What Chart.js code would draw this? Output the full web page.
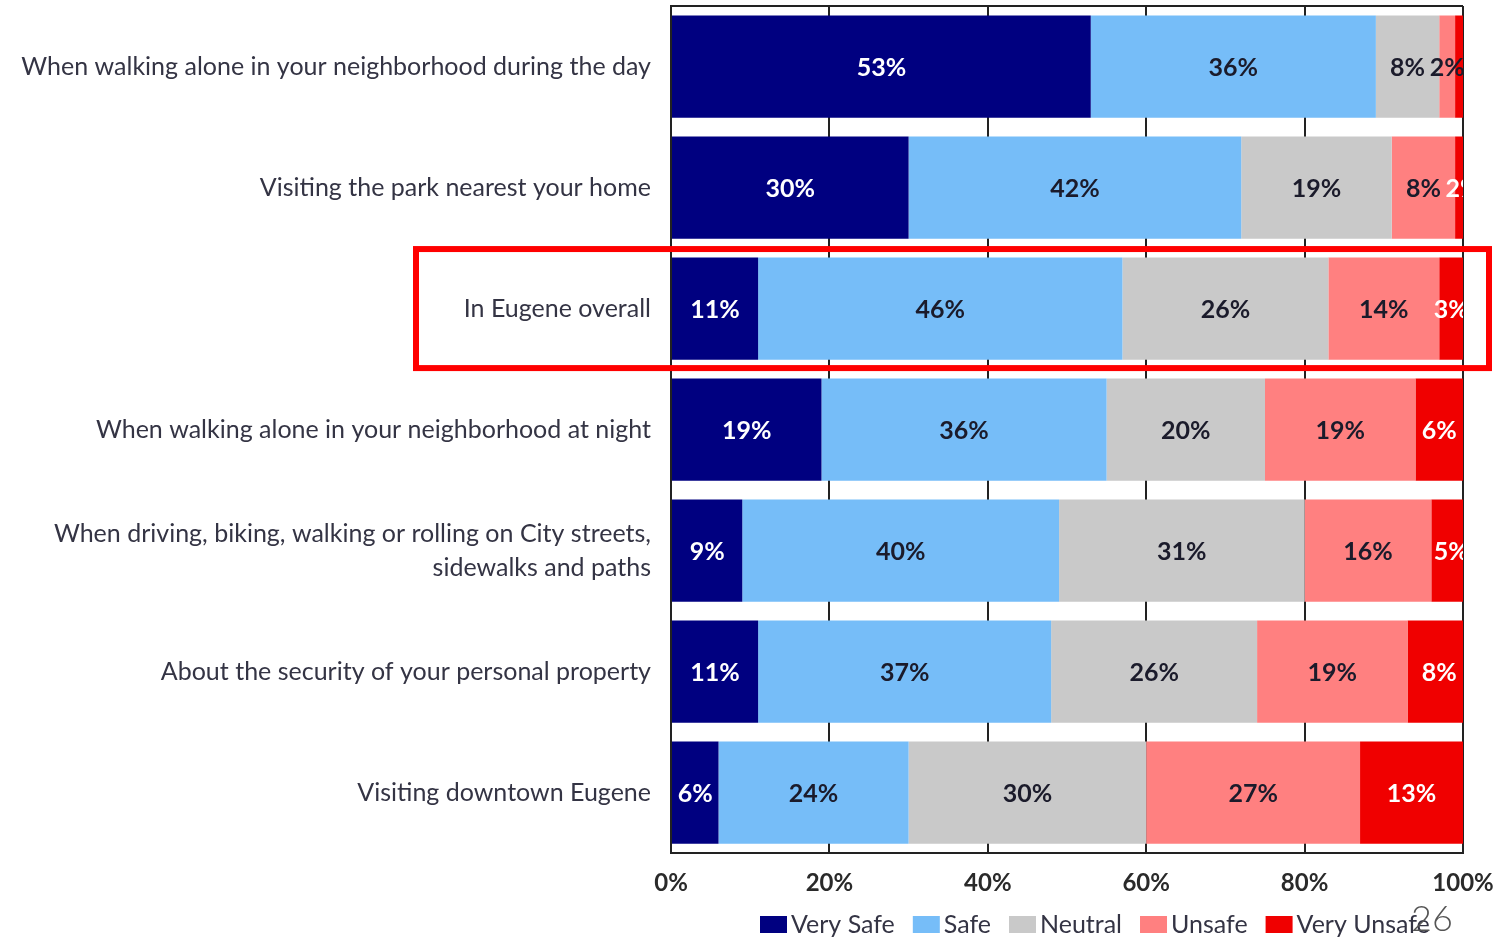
<!DOCTYPE html>
<html>

<head>
    <meta charset="utf-8">
    <title>Feeling safe in Eugene</title>
    <script src="https://cdn.jsdelivr.net/npm/chart.js@4.4.0/dist/chart.umd.min.js"></script>
    <style>
        body { margin: 0; background: #fff; }
        #wrap { width: 1500px; height: 939px; }
    </style>
</head>

<body>
    <div id="wrap"><canvas id="safetyChart"></canvas></div>
</body>

<script>
    // rows of the chart, top to bottom
    var questions = [
        "When walking alone in your neighborhood during the day",
        "Visiting the park nearest your home",
        "In Eugene overall",
        "When walking alone in your neighborhood at night",
        ["When driving, biking, walking or rolling on City streets,", "sidewalks and paths"],
        "About the security of your personal property",
        "Visiting downtown Eugene"
    ];
    var answerNames = ["Very Safe", "Safe", "Neutral", "Unsafe", "Very Unsafe"];
    var verySafe = [53, 30, 11, 19, 9, 11, 6];
    var safe = [36, 42, 46, 36, 40, 37, 24];
    var neutral = [8, 19, 26, 20, 31, 26, 30];
    var unsafe = [2, 8, 14, 19, 16, 19, 27];
    var veryUnsafe = [1, 2, 3, 6, 5, 8, 13];
    var xTicks = [0, 20, 40, 60, 80, 100];
    var highlightRow = 2;
    var pageNumber = "26";

    var colors = ["#000080", "#76bdf8", "#c9c9c9", "#ff8080", "#f00000"];
    var labelColors = ["#ffffff", "#1b1b2b", "#1b1b2b", "#1b1b2b", "#ffffff"];
    var textColor = "#343444";

    // value labels inside the bars
    var barLabels = {
        id: 'barLabels',
        afterDatasetsDraw(chart) {
            var ctx = chart.ctx;
            var area = chart.chartArea;
            ctx.save();
            ctx.beginPath();
            ctx.rect(area.left, area.top, area.right - area.left, area.bottom - area.top);
            ctx.clip();
            ctx.font = "bold 25px Lato";
            ctx.textAlign = "center";
            ctx.textBaseline = "middle";
            chart.data.datasets.forEach((ds, i) => {
                chart.getDatasetMeta(i).data.forEach((bar, j) => {
                    var v = ds.data[j];
                    if (v < 2) return;
                    ctx.fillStyle = labelColors[i];
                    ctx.fillText(v + "%", (bar.x + bar.base) / 2, bar.y + 1);
                });
            });
            ctx.restore();
        }
    };

    // frame, highlight box, legend and page number
    var extras = {
        id: 'extras',
        beforeDatasetsDraw(chart) {
            var ctx = chart.ctx;
            var area = chart.chartArea;
            ctx.save();
            ctx.strokeStyle = "#222";
            ctx.lineWidth = 2;
            ctx.beginPath();
            ctx.moveTo(area.left, area.top);
            ctx.lineTo(area.right, area.top);
            ctx.stroke();
            ctx.restore();
        },
        afterDraw(chart) {
            var ctx = chart.ctx;
            var area = chart.chartArea;
            var yScale = chart.scales.y;
            ctx.save();

            // red box round the highlighted row
            var cy = yScale.getPixelForValue(highlightRow);
            var half = (area.bottom - area.top) / questions.length / 2;
            ctx.strokeStyle = "#ff0000";
            ctx.lineWidth = 6;
            ctx.strokeRect(area.left - 255, cy - half + 1, area.right - area.left + 281, half * 2 - 2);

            // legend
            ctx.font = "25px Lato";
            ctx.textBaseline = "middle";
            ctx.textAlign = "left";
            var x = area.left + 89;
            var y = chart.height - 14;
            chart.data.datasets.forEach((ds) => {
                ctx.fillStyle = ds.backgroundColor;
                ctx.fillRect(x, y - 9, 27, 17);
                x += 31;
                ctx.fillStyle = textColor;
                ctx.fillText(ds.label, x, y);
                x += ctx.measureText(ds.label).width + 18;
            });

            // page number
            ctx.font = "300 36px Lato";
            ctx.fillStyle = "#555";
            ctx.textAlign = "center";
            ctx.fillText(pageNumber, area.right - 31, chart.height - 20);
            ctx.restore();
        }
    };

    var seriesValues = [verySafe, safe, neutral, unsafe, veryUnsafe];
    var chartCtx = document.getElementById('safetyChart').getContext('2d');
    var safetyChart = new Chart(chartCtx, {
        type: 'bar',
        data: {
            labels: questions,
            datasets: answerNames.map((name, i) => ({
                label: name,
                data: seriesValues[i],
                backgroundColor: colors[i],
                borderWidth: 0,
                barPercentage: 0.845,
                categoryPercentage: 1
            }))
        },
        options: {
            indexAxis: 'y',
            responsive: true,
            maintainAspectRatio: false,
            animation: false,
            layout: {
                padding: { top: 6, right: 37, bottom: 25, left: 0 }
            },
            plugins: {
                legend: { display: false },
                tooltip: { enabled: false }
            },
            scales: {
                x: {
                    stacked: true,
                    min: 0,
                    max: 100,
                    afterBuildTicks: (scale) => {
                        scale.ticks = xTicks.map(v => ({ value: v }));
                    },
                    afterFit: (scale) => {
                        scale.paddingLeft = 0;
                        scale.paddingRight = 0;
                    },
                    ticks: {
                        callback: (v) => v + "%",
                        font: { family: "Lato", size: 24, weight: "bold" },
                        color: "#2a2a2a",
                        padding: 16,
                        maxRotation: 0
                    },
                    grid: {
                        color: "#222",
                        lineWidth: 2,
                        drawTicks: false
                    },
                    border: { color: "#222", width: 2 }
                },
                y: {
                    stacked: true,
                    afterFit: (scale) => {
                        scale.width = 671;
                        scale.paddingTop = 0;
                        scale.paddingBottom = 0;
                    },
                    ticks: {
                        font: { family: "Lato", size: 25, lineHeight: 1.36 },
                        color: textColor,
                        padding: 12
                    },
                    grid: { display: false },
                    border: { color: "#222", width: 2 }
                }
            }
        },
        plugins: [barLabels, extras]
    });
</script>

</html>
